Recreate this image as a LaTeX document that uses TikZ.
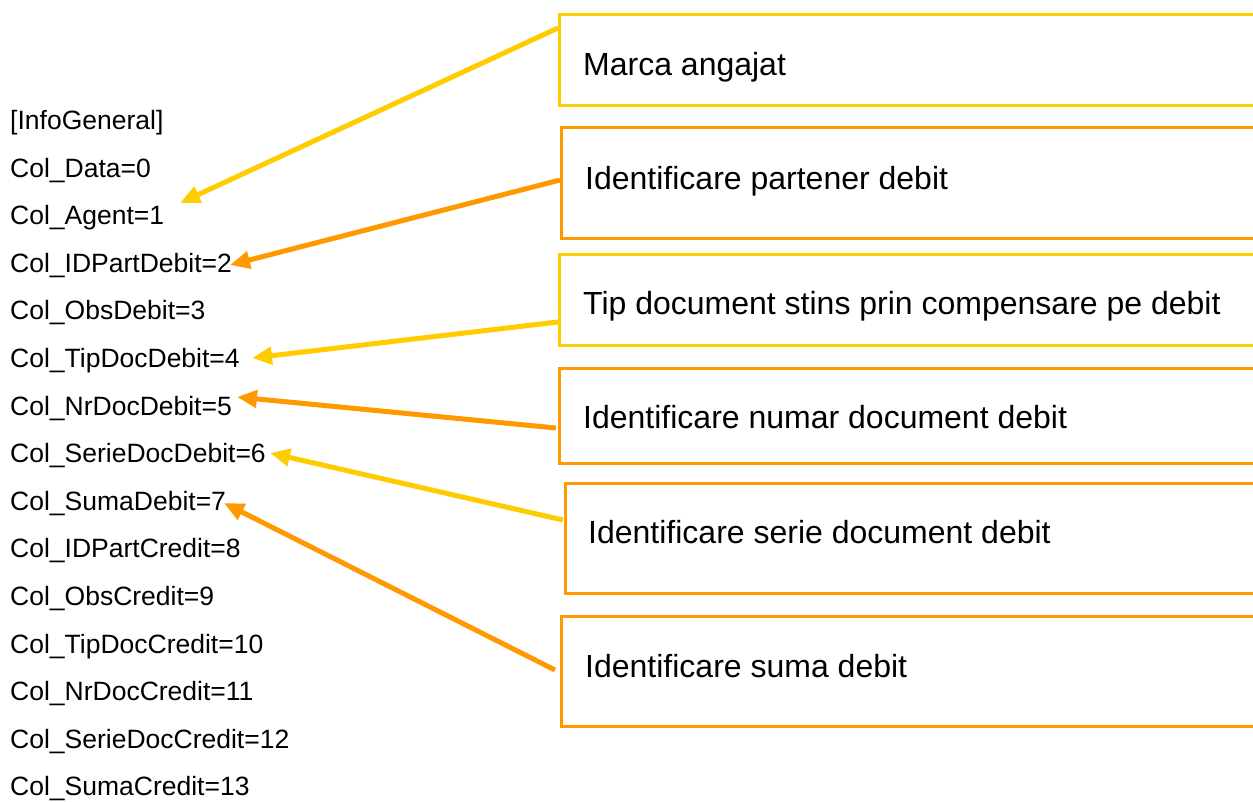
\documentclass[tikz,border=0pt]{standalone}
\usepackage{fontspec}
\setmainfont{Liberation Sans}
\usetikzlibrary{arrows.meta}
\definecolor{ycol}{HTML}{FFCC00}
\definecolor{ocol}{HTML}{FF9900}
\begin{document}
\begin{tikzpicture}[x=1pt,y=-1pt,
  lefttext/.style={anchor=base west,inner sep=0pt,font=\fontsize{26.5}{30}\selectfont},
  boxtext/.style={anchor=base west,inner sep=0pt,font=\fontsize{32}{36}\selectfont},
  fieldbox/.style={draw,line width=2.5pt,anchor=north west,inner sep=0pt,minimum width=760pt},
  arr/.style={line width=5pt,-{Triangle[length=20pt,width=17pt]}}]
\useasboundingbox (0,0) rectangle (1253,801);
\clip (0,0) rectangle (1253,801);
% left column
\foreach \t [count=\i from 0] in {[InfoGeneral],Col\_Data=0,Col\_Agent=1,Col\_IDPartDebit=2,Col\_ObsDebit=3,Col\_TipDocDebit=4,Col\_NrDocDebit=5,Col\_SerieDocDebit=6,Col\_SumaDebit=7,Col\_IDPartCredit=8,Col\_ObsCredit=9,Col\_TipDocCredit=10,Col\_NrDocCredit=11,Col\_SerieDocCredit=12,Col\_SumaCredit=13}
  \node[lefttext] (l\i) at (10,129.5+47.6*\i) {\t};
% boxes
\node[fieldbox,draw=ycol,minimum height=91pt] (b1) at (558,13) {};
\node[fieldbox,draw=ocol,minimum height=111pt] (b2) at (560,126) {};
\node[fieldbox,draw=ycol,minimum height=91pt] (b3) at (558,253) {};
\node[fieldbox,draw=ocol,minimum height=95pt] (b4) at (558,367) {};
\node[fieldbox,draw=ocol,minimum height=110pt] (b5) at (564,482) {};
\node[fieldbox,draw=ocol,minimum height=110pt] (b6) at (560,615) {};
% box texts
\node[boxtext] (m1) at (583,75.5) {Marca angajat};
\node[boxtext] (m2) at (585,189.5) {Identificare partener debit};
\node[boxtext] (m3) at (583,314.5) {Tip document stins prin compensare pe debit};
\node[boxtext] (m4) at (583,428.5) {Identificare numar document debit};
\node[boxtext] (m5) at (588,543.5) {Identificare serie document debit};
\node[boxtext] (m6) at (585,677.5) {Identificare suma debit};
% arrow tips
\coordinate (t1) at (180,203);
\coordinate (t2) at (230,265);
\coordinate (t3) at (252,358);
\coordinate (t4) at (237,397);
\coordinate (t5) at (270,453);
\coordinate (t6) at (224,503);
% arrows
\draw[arr,ycol] ([yshift=-15pt]b1.north west) -- (t1);
\draw[arr,ocol] ([yshift=-54pt]b2.north west) -- (t2);
\draw[arr,ycol] ([yshift=-69pt]b3.north west) -- (t3);
\draw[arr,ocol] ([xshift=-2pt,yshift=-61pt]b4.north west) -- (t4);
\draw[arr,ycol] ([xshift=-1pt,yshift=-38pt]b5.north west) -- (t5);
\draw[arr,ocol] ([xshift=-5pt,yshift=-55pt]b6.north west) -- (t6);
\end{tikzpicture}
\end{document}
